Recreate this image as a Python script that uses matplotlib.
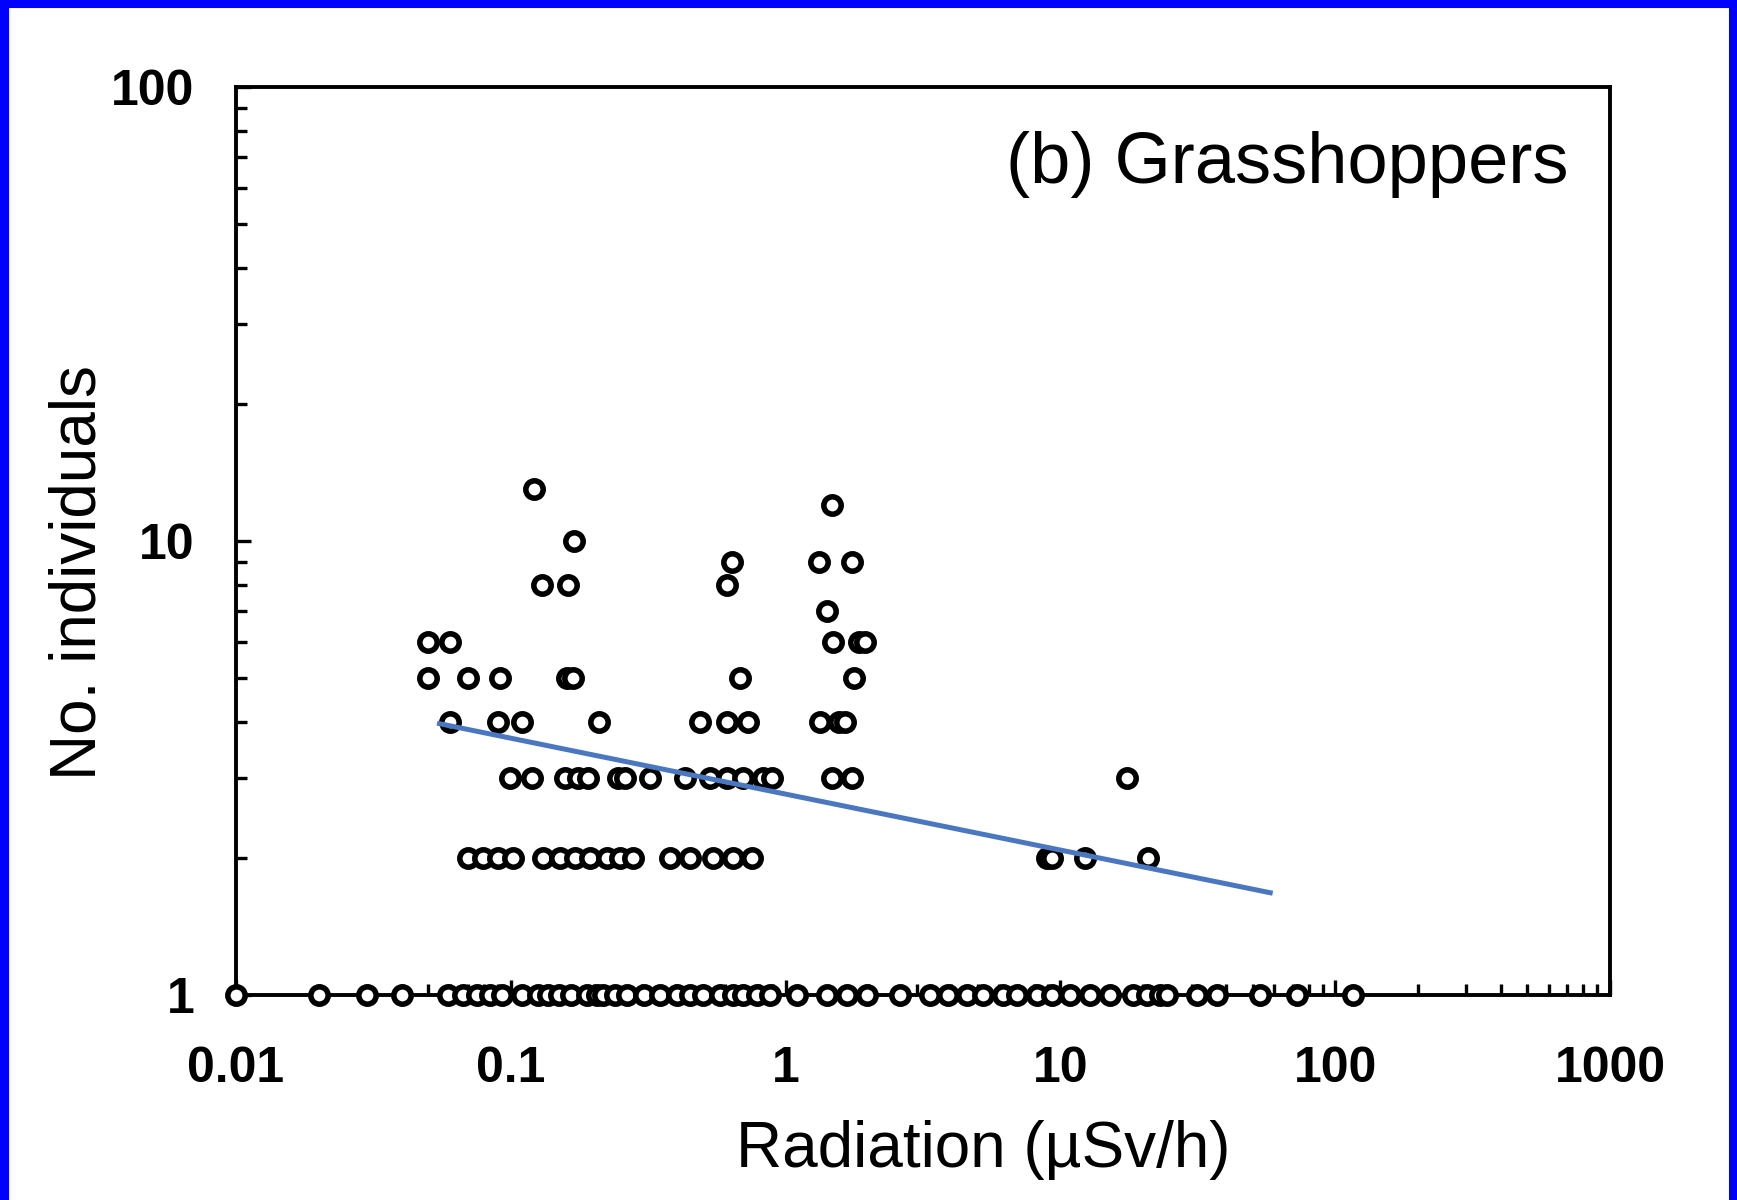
import numpy as np
import matplotlib
matplotlib.use("Agg")
import matplotlib.pyplot as plt
from matplotlib.ticker import LogLocator, NullFormatter, FixedLocator

# radiation (uSv/h) of each site, grouped by number of grasshoppers found
rad_n1 = [0.01, 0.02, 0.03, 0.04, 0.059, 0.067, 0.075, 0.084, 0.093, 0.11, 0.126,
          0.137, 0.15, 0.165, 0.189, 0.205, 0.217, 0.24, 0.264, 0.304, 0.35, 0.402,
          0.449, 0.502, 0.577, 0.645, 0.702, 0.785, 0.878, 1.1, 1.41, 1.67, 1.97,
          2.61, 3.35, 3.91, 4.56, 5.24, 6.2, 6.93, 8.2, 9.3, 10.8, 12.8, 15.2, 18.4,
          20.6, 23.0, 24.4, 31.3, 37.0, 53.3, 72.4, 116]
rad_n2 = [0.07, 0.0794, 0.09, 0.102, 0.131, 0.151, 0.171, 0.194, 0.223, 0.25, 0.279,
          0.38, 0.449, 0.546, 0.645, 0.753, 8.9, 9.3, 12.3, 20.9]
rad_n3 = [0.0993, 0.119, 0.158, 0.176, 0.191, 0.246, 0.26, 0.321, 0.43, 0.531, 0.61,
          0.702, 0.83, 0.89, 1.47, 1.74, 17.4]
rad_n4 = [0.06, 0.09, 0.11, 0.21, 0.488, 0.61, 0.731, 1.33, 1.56, 1.64]
rad_n5 = [0.05, 0.07, 0.091, 0.16, 0.169, 0.682, 1.77]
rad_n6 = [0.05, 0.06, 1.49, 1.85, 1.95]
rad_n7 = [1.41]
rad_n8 = [0.13, 0.161, 0.61]
rad_n9 = [0.637, 1.32, 1.74]
rad_n10 = [0.17]
rad_n12 = [1.47]
rad_n13 = [0.121]

groups = [(1, rad_n1), (2, rad_n2), (3, rad_n3), (4, rad_n4), (5, rad_n5), (6, rad_n6),
          (7, rad_n7), (8, rad_n8), (9, rad_n9), (10, rad_n10), (12, rad_n12), (13, rad_n13)]

# fitted trend drawn on top
trend_x = [0.055, 58]
trend_y = [3.96, 1.68]

xtick_vals = [0.01, 0.1, 1, 10, 100, 1000]
xtick_labels = ["0.01", "0.1", "1", "10", "100", "1000"]
ytick_vals = [1, 10, 100]
ytick_labels = ["1", "10", "100"]

fig = plt.figure(figsize=(17.37, 12), dpi=100)
ax = fig.add_axes([0.1359, 0.1708, 0.7910, 0.7567])

xs = np.concatenate([np.array(v, dtype=float) for n, v in groups])
ys = np.concatenate([np.full(len(v), n, dtype=float) for n, v in groups])
ax.plot(xs, ys, linestyle="none", marker="o", markersize=12.5, markeredgewidth=4,
        markeredgecolor="black", markerfacecolor="white", clip_on=False, zorder=3)

ax.plot(trend_x, trend_y, color="#4a78c0", linewidth=3.6, zorder=4)

ax.set_xscale("log")
ax.set_yscale("log")
ax.set_xlim(0.01, 1000)
ax.set_ylim(1, 100)

ax.xaxis.set_major_locator(FixedLocator(xtick_vals))
ax.set_xticklabels(xtick_labels)
ax.yaxis.set_major_locator(FixedLocator(ytick_vals))
ax.set_yticklabels(ytick_labels)
ax.xaxis.set_minor_locator(LogLocator(base=10, subs=np.arange(2, 10)))
ax.yaxis.set_minor_locator(LogLocator(base=10, subs=np.arange(2, 10)))
ax.xaxis.set_minor_formatter(NullFormatter())
ax.yaxis.set_minor_formatter(NullFormatter())

for lab in ax.get_xticklabels() + ax.get_yticklabels():
    lab.set_fontfamily("Liberation Sans")
    lab.set_fontweight("bold")
    lab.set_fontsize(36)

ax.tick_params(axis="both", which="both", direction="in", width=2.4, color="black")
ax.tick_params(axis="both", which="major", length=11)
ax.tick_params(axis="both", which="minor", length=8)
ax.tick_params(axis="x", which="major", pad=37)
ax.tick_params(axis="y", which="major", pad=30)

for side in ["left", "bottom", "top", "right"]:
    ax.spines[side].set_linewidth(2.8)
    ax.spines[side].set_color("black")

ax.set_xlabel("Radiation (\u00b5Sv/h)", fontfamily="Liberation Sans", fontsize=46, labelpad=20)
ax.set_ylabel("No. individuals", fontfamily="Liberation Sans", fontsize=46, labelpad=2)
ax.xaxis.label.set_x(0.544)
ax.yaxis.label.set_y(0.465)

ax.text(0.97, 0.915, "(b) Grasshoppers", transform=ax.transAxes, ha="right", va="center",
        fontfamily="Liberation Sans", fontsize=52)

# blue slide frame
for x0, y0, x1, y1 in [(0.002, 0, 0.002, 1), (0, 0.998, 1, 0.998), (0.998, 0, 0.998, 1)]:
    fig.add_artist(plt.Line2D([x0, x1], [y0, y1], color="#0000ff", linewidth=8,
                              transform=fig.transFigure))

fig.savefig("out.png", dpi=100)
